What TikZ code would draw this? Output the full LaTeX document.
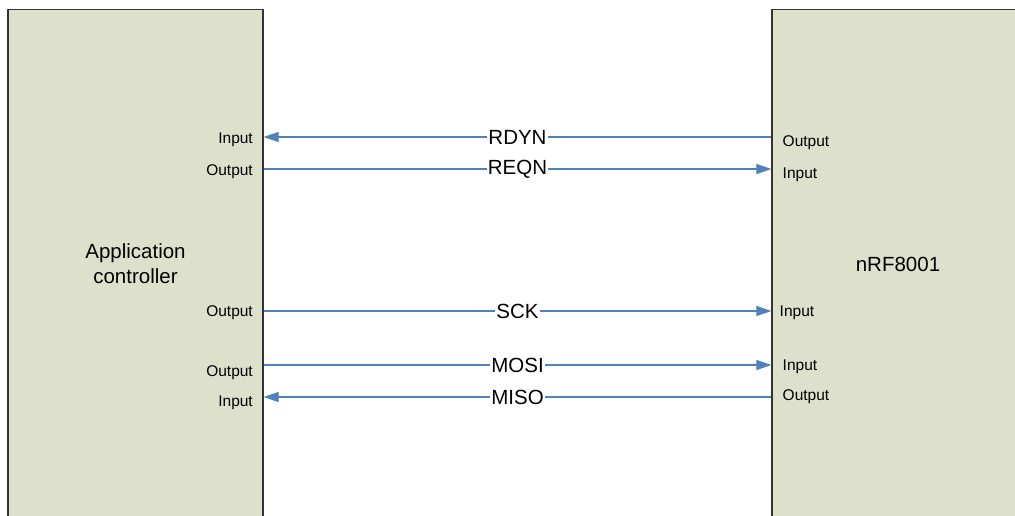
\documentclass[tikz,border=0pt]{standalone}
\usepackage{fontspec}
\setmainfont{Liberation Sans}
\usetikzlibrary{arrows.meta}
\definecolor{chipfill}{RGB}{221,225,204}
\definecolor{wireblue}{RGB}{79,129,189}
\begin{document}
\begin{tikzpicture}[x = 1pt, y = -1pt, line join = round,
		chip/.style = {draw = black!80, line width = 1.2pt, fill = chipfill, minimum width = 255pt, minimum height = 509pt, inner sep = 0pt, align = center, font = \fontsize{20.5}{25}\selectfont},
		wire/.style = {draw = wireblue, line width = 1.1pt, -{Triangle[length = 15pt, width = 10pt]}},
		sig/.style = {fill = white, inner sep = 1pt, font = \fontsize{20.5}{24}\selectfont},
		pin/.style = {inner sep = 0pt, font = \fontsize{15.5}{18}\selectfont}]
	\useasboundingbox (0,0) rectangle (1015,515);
	\node[chip] (app) at (135.5,264) {Application\\controller};
	\node[chip, minimum width = 252pt] (nrf) at (898,264) {nRF8001};
	% pins on both chips
	\foreach \s/\y in {rdyn/137, reqn/169, sck/311, mosi/365, miso/397} {
		\coordinate (\s-app) at (app.east |- 0,\y);
		\coordinate (\s-nrf) at (nrf.west |- 0,\y);
	}
	\draw[wire] (rdyn-nrf) -- node[sig] {RDYN} (rdyn-app);
	\draw[wire] (reqn-app) -- node[sig] {REQN} (reqn-nrf);
	\draw[wire] (sck-app) -- node[sig] {SCK} (sck-nrf);
	\draw[wire] (mosi-app) -- node[sig] {MOSI} (mosi-nrf);
	\draw[wire] (miso-nrf) -- node[sig] {MISO} (miso-app);
	% pin names, application controller side
	\node[pin, anchor = base east] (rdyn-in) at (253,143.3) {Input};
	\node[pin, anchor = base east] (reqn-out) at (253,175) {Output};
	\node[pin, anchor = base east] (sck-out) at (253,316) {Output};
	\node[pin, anchor = base east] (mosi-out) at (253,376) {Output};
	\node[pin, anchor = base east] (miso-in) at (253,406) {Input};
	% pin names, nRF8001 side
	\node[pin, anchor = base west] (rdyn-out) at (782.5,146.7) {Output};
	\node[pin, anchor = base west] (reqn-in) at (782.5,178) {Input};
	\node[pin, anchor = base west] (sck-in) at (779.5,316) {Input};
	\node[pin, anchor = base west] (mosi-in) at (782.5,370.7) {Input};
	\node[pin, anchor = base west] (miso-out) at (782.5,400.7) {Output};
\end{tikzpicture}
\end{document}
